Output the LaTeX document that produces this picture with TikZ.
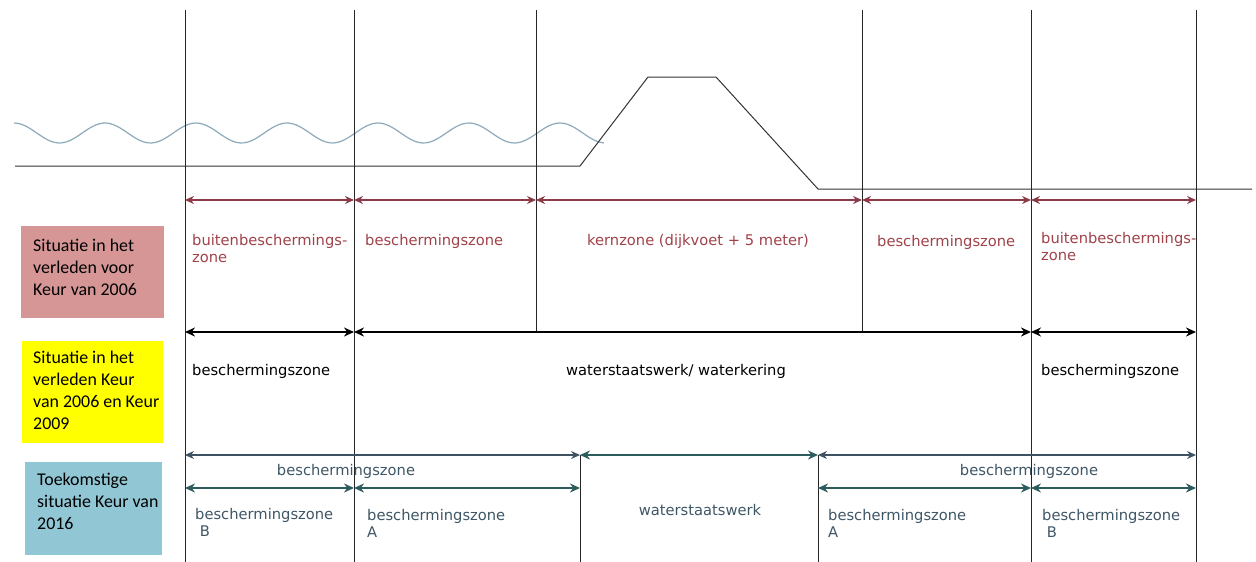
\documentclass[tikz,border=0pt]{standalone}
\usepackage{fontspec}
\setmainfont{DejaVu Sans}
\newfontfamily\boxfont{Carlito}
\usetikzlibrary{
    arrows.meta,
    positioning
}
\definecolor{zonered}{RGB}{160,66,74}
\definecolor{arrowred}{RGB}{140,58,72}
\definecolor{boxred}{RGB}{214,150,150}
\definecolor{boxyellow}{RGB}{255,255,0}
\definecolor{boxblue}{RGB}{145,198,212}
\definecolor{tealline}{RGB}{45,92,92}
\definecolor{slateline}{RGB}{62,82,98}
\definecolor{tealtext}{RGB}{62,86,102}
\definecolor{wavecolor}{RGB}{140,170,186}

\begin{document}
\begin{tikzpicture}[
    x=1pt, y=-1pt,
    labelbox/.style = {rectangle, anchor=north west, inner sep=0pt},
    boxtext/.style = {anchor=west, align=left, inner sep=0pt,
                      font=\boxfont\fontsize{17.9}{22}\selectfont},
    zonetext/.style = {anchor=north west, align=left, inner sep=0pt,
                       font=\fontsize{14.7}{17}\selectfont},
    zoneline/.style = {draw=black!85, line width=0.9pt},
    redarrow/.style = {draw=arrowred, line width=1.4pt,
                       {Stealth[length=9pt,width=8pt]}-{Stealth[length=9pt,width=8pt]}},
    blackarrow/.style = {draw=black, line width=2pt,
                         {Stealth[length=10pt,width=9pt]}-{Stealth[length=10pt,width=9pt]}},
    tealarrow/.style = {draw=tealline, line width=2pt,
                        {Stealth[length=10pt,width=9pt]}-{Stealth[length=10pt,width=9pt]}},
    slatearrow/.style = {draw=slateline, line width=1.2pt,
                         {Stealth[length=9pt,width=8pt]}-{Stealth[length=9pt,width=8pt]}}
]
    \useasboundingbox (0,0) rectangle (1256,562);

    % zone borders, one coordinate per row
    \foreach \n/\xpos in {A/185, B/354, C/536, D/862, E/1031, F/1196, G/580, H/818} {
        \coordinate (\n0) at (\xpos,10);
        \coordinate (\n1) at (\xpos,200);
        \coordinate (\n2) at (\xpos,332);
        \coordinate (\n3) at (\xpos,455);
        \coordinate (\n4) at (\xpos,488);
        \coordinate (\n5) at (\xpos,562);
    }

    % water and dike
    \draw[wavecolor, line width=1.2pt] plot[domain=14:604, samples=160]
        (\x, {133-10*cos(3.956*(\x-14))});
    \draw[black!80, line width=1pt] (15,166) -- (580,166) -- (648,77)
        -- (716,77) -- (818,189) -- (1252,189);

    % left labels
    \node[labelbox, fill=boxred, minimum width=143pt, minimum height=92pt] (RB) at (21,226) {};
    \node[boxtext] (RT) at ([xshift=12pt, yshift=5pt]RB.west) {Situatie in het\\verleden voor\\Keur van 2006};
    \node[labelbox, fill=boxyellow, minimum width=141pt, minimum height=102pt] (YB) at (22,341) {};
    \node[boxtext] (YT) at ([xshift=11pt, yshift=2pt]YB.west) {Situatie in het\\verleden Keur\\van 2006 en Keur\\2009};
    \node[labelbox, fill=boxblue, minimum width=137pt, minimum height=93pt] (BB) at (25,462) {};
    \node[boxtext] (BT) at ([xshift=12pt, yshift=7pt]BB.west) {Toekomstige\\situatie Keur van\\2016};

    % texts
    \node[zonetext, text=zonered] (OZ1) at (192,234) {buitenbeschermings-\\zone};
    \node[zonetext, text=zonered] (BZ1) at (365,234) {beschermingszone};
    \node[zonetext, text=zonered, anchor=north] (KZ) at (698,234) {kernzone (dijkvoet + 5 meter)};
    \node[zonetext, text=zonered] (BZ2) at (877,235) {beschermingszone};
    \node[zonetext, text=zonered] (OZ2) at (1041,232) {buitenbeschermings-\\zone};

    \node[zonetext] (KB1) at (192,364) {beschermingszone};
    \node[zonetext, anchor=north] (WK) at (676,364) {waterstaatswerk/ waterkering};
    \node[zonetext] (KB2) at (1041,364) {beschermingszone};

    \node[zonetext, text=tealtext, anchor=north] (TB1) at (346,464) {beschermingszone};
    \node[zonetext, text=tealtext, anchor=north] (TB2) at (1029,464) {beschermingszone};
    \node[zonetext, text=tealtext] (SB1) at (195,508) {beschermingszone\\\ B};
    \node[zonetext, text=tealtext] (SA1) at (367,509) {beschermingszone\\A};
    \node[zonetext, text=tealtext, anchor=north] (WS) at (700,504) {waterstaatswerk};
    \node[zonetext, text=tealtext] (SA2) at (828,509) {beschermingszone\\A};
    \node[zonetext, text=tealtext] (SB2) at (1042,509) {beschermingszone\\\ B};

    \draw[zoneline] (A0) -- (A5);
    \draw[zoneline] (B0) -- (B5);
    \draw[zoneline] (C0) -- (C2);
    \draw[zoneline] (D0) -- (D2);
    \draw[zoneline] (E0) -- (E5);
    \draw[zoneline] (F0) -- (F5);
    \draw[zoneline] (G3) -- (G5);
    \draw[zoneline] (H3) -- (H5);

    \draw[redarrow] (A1) -- (B1);
    \draw[redarrow] (B1) -- (C1);
    \draw[redarrow] (C1) -- (D1);
    \draw[redarrow] (D1) -- (E1);
    \draw[redarrow] (E1) -- (F1);

    \draw[blackarrow] (A2) -- (B2);
    \draw[blackarrow] (B2) -- (E2);
    \draw[blackarrow] (E2) -- (F2);

    \draw[slatearrow] (A3) -- (G3);
    \draw[tealarrow] (G3) -- (H3);
    \draw[slatearrow] (H3) -- (F3);

    \draw[tealarrow] (A4) -- (B4);
    \draw[tealarrow] (B4) -- (G4);
    \draw[tealarrow] (H4) -- (E4);
    \draw[tealarrow] (E4) -- (F4);

\end{tikzpicture}
\end{document}
